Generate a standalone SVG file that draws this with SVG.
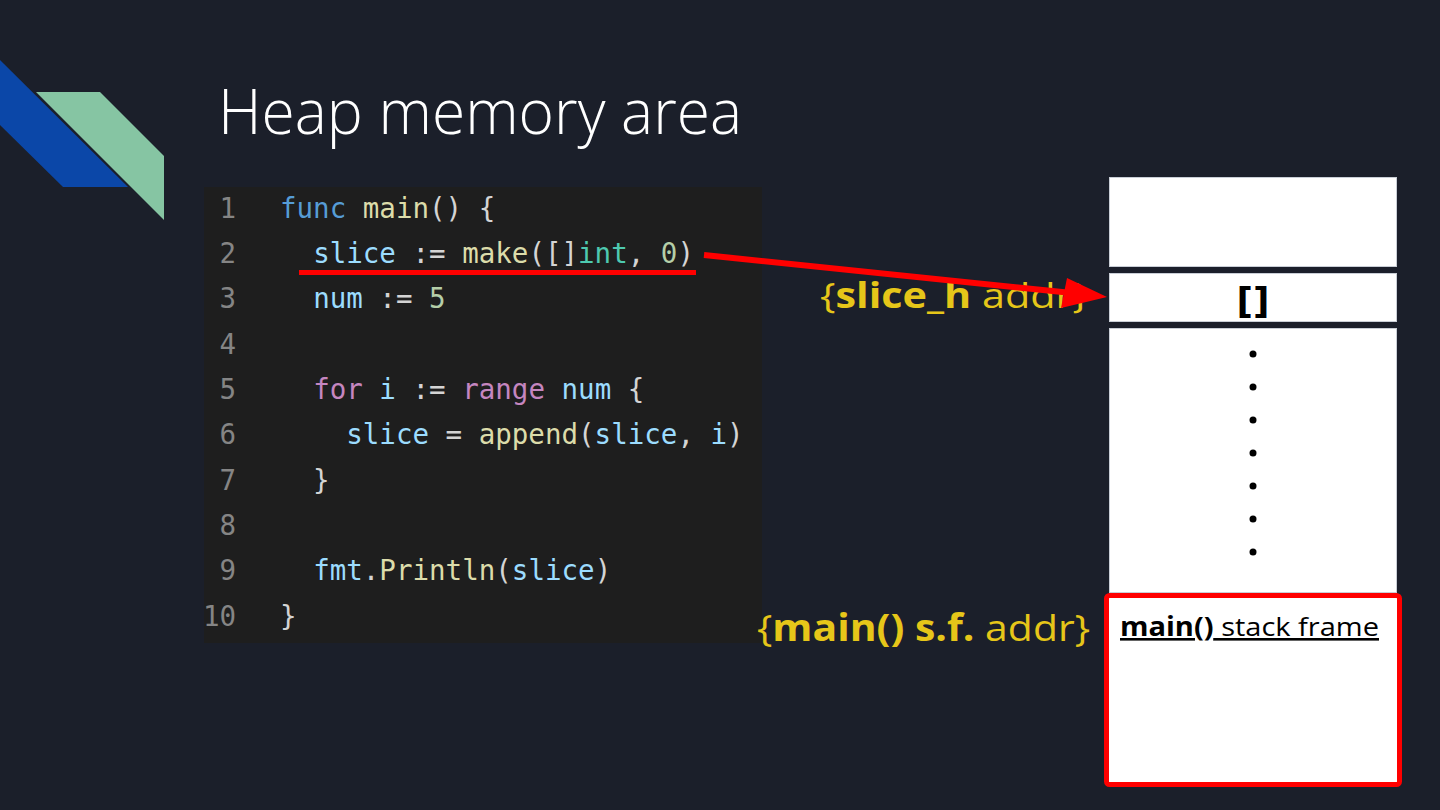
<svg xmlns="http://www.w3.org/2000/svg" width="1440" height="810" viewBox="0 0 1440 810">
<style>
.code{font-family:"DejaVu Sans Mono","Liberation Mono",monospace;font-size:27.5px;fill:#d4d4d4}
.ln{fill:#858585;text-anchor:end}
.kw{fill:#569cd6}.fn{fill:#dcdcaa}.v{fill:#9cdcfe}.ty{fill:#4ec9b0}.num{fill:#b5cea8}.ctl{fill:#c586c0}
.lbl{font-family:"Open Sans","Noto Sans",sans-serif;fill:#e6c619}
.mem{fill:#ffffff;stroke:#c9ced6;stroke-width:1}
</style>
<rect width="1440" height="810" fill="#1b1f2a"/>
<g id="decor">
<polygon points="0,60 128,187 63,187 0,125" fill="#0b47a8"/>
<polygon points="36,92 100,92 164,156 164,220" fill="#86c5a3"/>
</g>
<text x="218" y="134" font-family="'Open Sans','Noto Sans',sans-serif" font-weight="300" font-size="62" fill="#ffffff" textLength="524" lengthAdjust="spacingAndGlyphs">Heap memory area</text>
<g id="code">
<rect x="204" y="187" width="558" height="456" fill="#1e1e1e"/>
<g class="code">
<text class="ln" x="236" y="218">1</text>
<text class="ln" x="236" y="263">2</text>
<text class="ln" x="236" y="308">3</text>
<text class="ln" x="236" y="354">4</text>
<text class="ln" x="236" y="399">5</text>
<text class="ln" x="236" y="444">6</text>
<text class="ln" x="236" y="490">7</text>
<text class="ln" x="236" y="535">8</text>
<text class="ln" x="236" y="580">9</text>
<text class="ln" x="236" y="626">10</text>
<text x="280" y="218" xml:space="preserve"><tspan class="kw">func</tspan> <tspan class="fn">main</tspan>() {</text>
<text x="280" y="263" xml:space="preserve">  <tspan class="v">slice</tspan> := <tspan class="fn">make</tspan>([]<tspan class="ty">int</tspan>, <tspan class="num">0</tspan>)</text>
<text x="280" y="308" xml:space="preserve">  <tspan class="v">num</tspan> := <tspan class="num">5</tspan></text>
<text x="280" y="399" xml:space="preserve">  <tspan class="ctl">for</tspan> <tspan class="v">i</tspan> := <tspan class="ctl">range</tspan> <tspan class="v">num</tspan> {</text>
<text x="280" y="444" xml:space="preserve">    <tspan class="v">slice</tspan> = <tspan class="fn">append</tspan>(<tspan class="v">slice</tspan>, <tspan class="v">i</tspan>)</text>
<text x="280" y="490" xml:space="preserve">  }</text>
<text x="280" y="580" xml:space="preserve">  <tspan class="v">fmt</tspan>.<tspan class="fn">Println</tspan>(<tspan class="v">slice</tspan>)</text>
<text x="280" y="626" xml:space="preserve">}</text>
</g>
<rect x="299" y="270" width="397" height="5" fill="#ff0000"/>
</g>
<g id="mem-top"><rect class="mem" x="1109.5" y="177.5" width="287" height="89"/></g>
<g id="mem-slice">
<rect class="mem" x="1109.5" y="273.5" width="287" height="48"/>
<text x="1253" y="313" text-anchor="middle" font-family="'DejaVu Sans',sans-serif" font-weight="bold" font-size="36" fill="#000">[]</text>
</g>
<g id="mem-gap">
<rect class="mem" x="1109.5" y="328.5" width="287" height="264"/>
<g fill="#000">
<circle cx="1253" cy="354" r="3.5"/><circle cx="1253" cy="387" r="3.5"/><circle cx="1253" cy="420" r="3.5"/><circle cx="1253" cy="453" r="3.5"/><circle cx="1253" cy="486" r="3.5"/><circle cx="1253" cy="519" r="3.5"/><circle cx="1253" cy="552" r="3.5"/>
</g>
</g>
<g id="mem-main">
<rect x="1106.5" y="595.5" width="293" height="189" rx="3" fill="#ffffff" stroke="#ff0000" stroke-width="5"/>
<text x="1120" y="636" font-family="'Open Sans','Noto Sans',sans-serif" font-size="26" fill="#000" text-decoration="underline" textLength="259" lengthAdjust="spacingAndGlyphs"><tspan font-weight="bold">main()</tspan> stack frame</text>
</g>
<g id="label-slice"><text class="lbl" x="820" y="308" font-size="35" textLength="268" lengthAdjust="spacingAndGlyphs">{<tspan font-weight="bold">slice_h</tspan> addr}</text></g>
<g id="label-main"><text class="lbl" x="757" y="641" font-size="37" textLength="333" lengthAdjust="spacingAndGlyphs">{<tspan font-weight="bold">main() s.f.</tspan> addr}</text></g>
<g id="connectors">
<line x1="704" y1="255" x2="1072" y2="293" stroke="#ff0000" stroke-width="6"/>
<polygon points="1107,297 1067,278 1061,308" fill="#ff0000"/>
</g>
</svg>
